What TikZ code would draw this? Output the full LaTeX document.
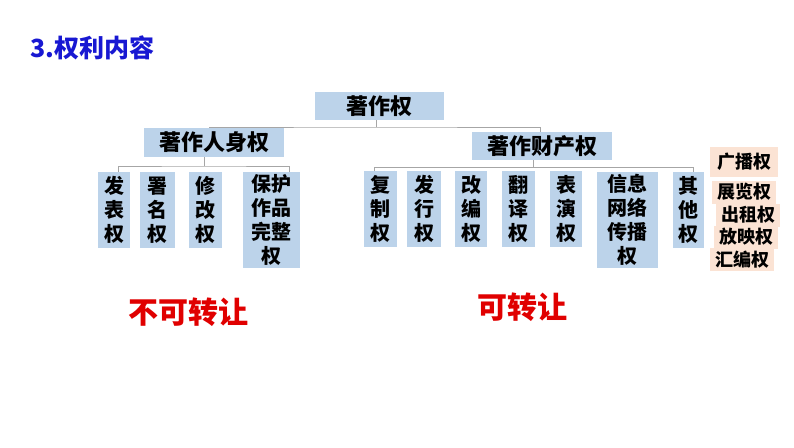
\documentclass[tikz,border=0pt]{standalone}
\usepackage{fontspec}
\setmainfont{Noto Sans CJK SC}
\usepackage{tikz}
\definecolor{boxblue}{HTML}{BCD3EA}
\definecolor{boxpeach}{HTML}{FBE3D4}
\definecolor{linegray}{HTML}{A6A6A6}
\definecolor{titleblue}{HTML}{1818D2}
\definecolor{markred}{HTML}{E00000}

\begin{document}
\begin{tikzpicture}[x=1pt, y=-1pt,
bluebox/.style={fill=boxblue, inner sep=0pt, align=center},
topbox/.style={bluebox, font=\fontsize{22}{26}\selectfont\bfseries},
leafbox/.style={bluebox, minimum height=76pt, font=\fontsize{20}{24}\selectfont\bfseries},
tallbox/.style={leafbox, minimum height=96pt},
peachbox/.style={fill=boxpeach, inner sep=0pt, minimum width=64pt, minimum height=23pt, font=\fontsize{18}{20}\selectfont\bfseries},
redtext/.style={text=markred, font=\fontsize{30}{32}\selectfont\bfseries},
link/.style={draw=linegray, line width=0.9pt}]
\useasboundingbox (0,0) rectangle (794,447);
\node[text=titleblue, font=\fontsize{25}{28}\selectfont\bfseries] (title) at (92,48) {3.权利内容};
% top levels
\node[topbox, minimum width=129pt, minimum height=28pt] (root) at (379,106) {著作权};
\node[topbox, minimum width=140pt, minimum height=29pt] (ren) at (214,142.5) {著作人身权};
\node[topbox, minimum width=140pt, minimum height=28pt] (cai) at (542,146) {著作财产权};
% left leaves
\node[leafbox, minimum width=32pt] (fa) at (114,210) {发\\表\\权};
\node[leafbox, minimum width=35pt] (shu) at (157.5,210) {署\\名\\权};
\node[leafbox, minimum width=33pt] (xiu) at (205.5,210) {修\\改\\权};
\node[tallbox, minimum width=57pt] (bao) at (271.5,220) {保护\\作品\\完整\\权};
% right leaves
\node[leafbox, minimum width=33pt] (fu) at (380,209) {复\\制\\权};
\node[leafbox, minimum width=34pt] (fx) at (424,209) {发\\行\\权};
\node[leafbox, minimum width=32pt] (gai) at (471,209) {改\\编\\权};
\node[leafbox, minimum width=33pt] (fan) at (518.5,209) {翻\\译\\权};
\node[leafbox, minimum width=32pt] (biao) at (566,209) {表\\演\\权};
\node[tallbox, minimum width=61pt] (xin) at (627.5,220) {信息\\网络\\传播\\权};
\node[leafbox, minimum width=31pt] (qi) at (688.5,210) {其\\他\\权};
% other rights
\node[peachbox, minimum width=68pt, minimum height=30pt] (gb) at (744,162) {广播权};
\node[peachbox] (zl) at (744,192) {展览权};
\node[peachbox] (cz) at (748,215) {出租权};
\node[peachbox] (fy) at (746,237) {放映权};
\node[peachbox] (hb) at (742,259.5) {汇编权};
% connectors
\coordinate (bus1) at (376,127);
\coordinate (bus2) at (204,166);
\coordinate (bus3) at (533,167.5);
\draw[link] (root.south -| bus1) -- (bus1);
\draw[link] ([xshift=-5pt]ren.north) |- (bus1) -| ([xshift=-2pt]cai.north);
\draw[link] (ren.south -| bus2) -- (bus2);
\draw[link] ([xshift=4pt]fa.north) |- (bus2) -| ([xshift=17.5pt]bao.north);
\draw[link] (cai.south -| bus3) -- (bus3);
\draw[link] ([xshift=-6pt]fu.north) |- (bus3) -| ([xshift=4.5pt]qi.north);
% labels
\node[redtext] (bukezhuan) at (188,312) {不可转让};
\node[redtext] (kezhuan) at (522,307) {可转让};
\end{tikzpicture}
\end{document}
